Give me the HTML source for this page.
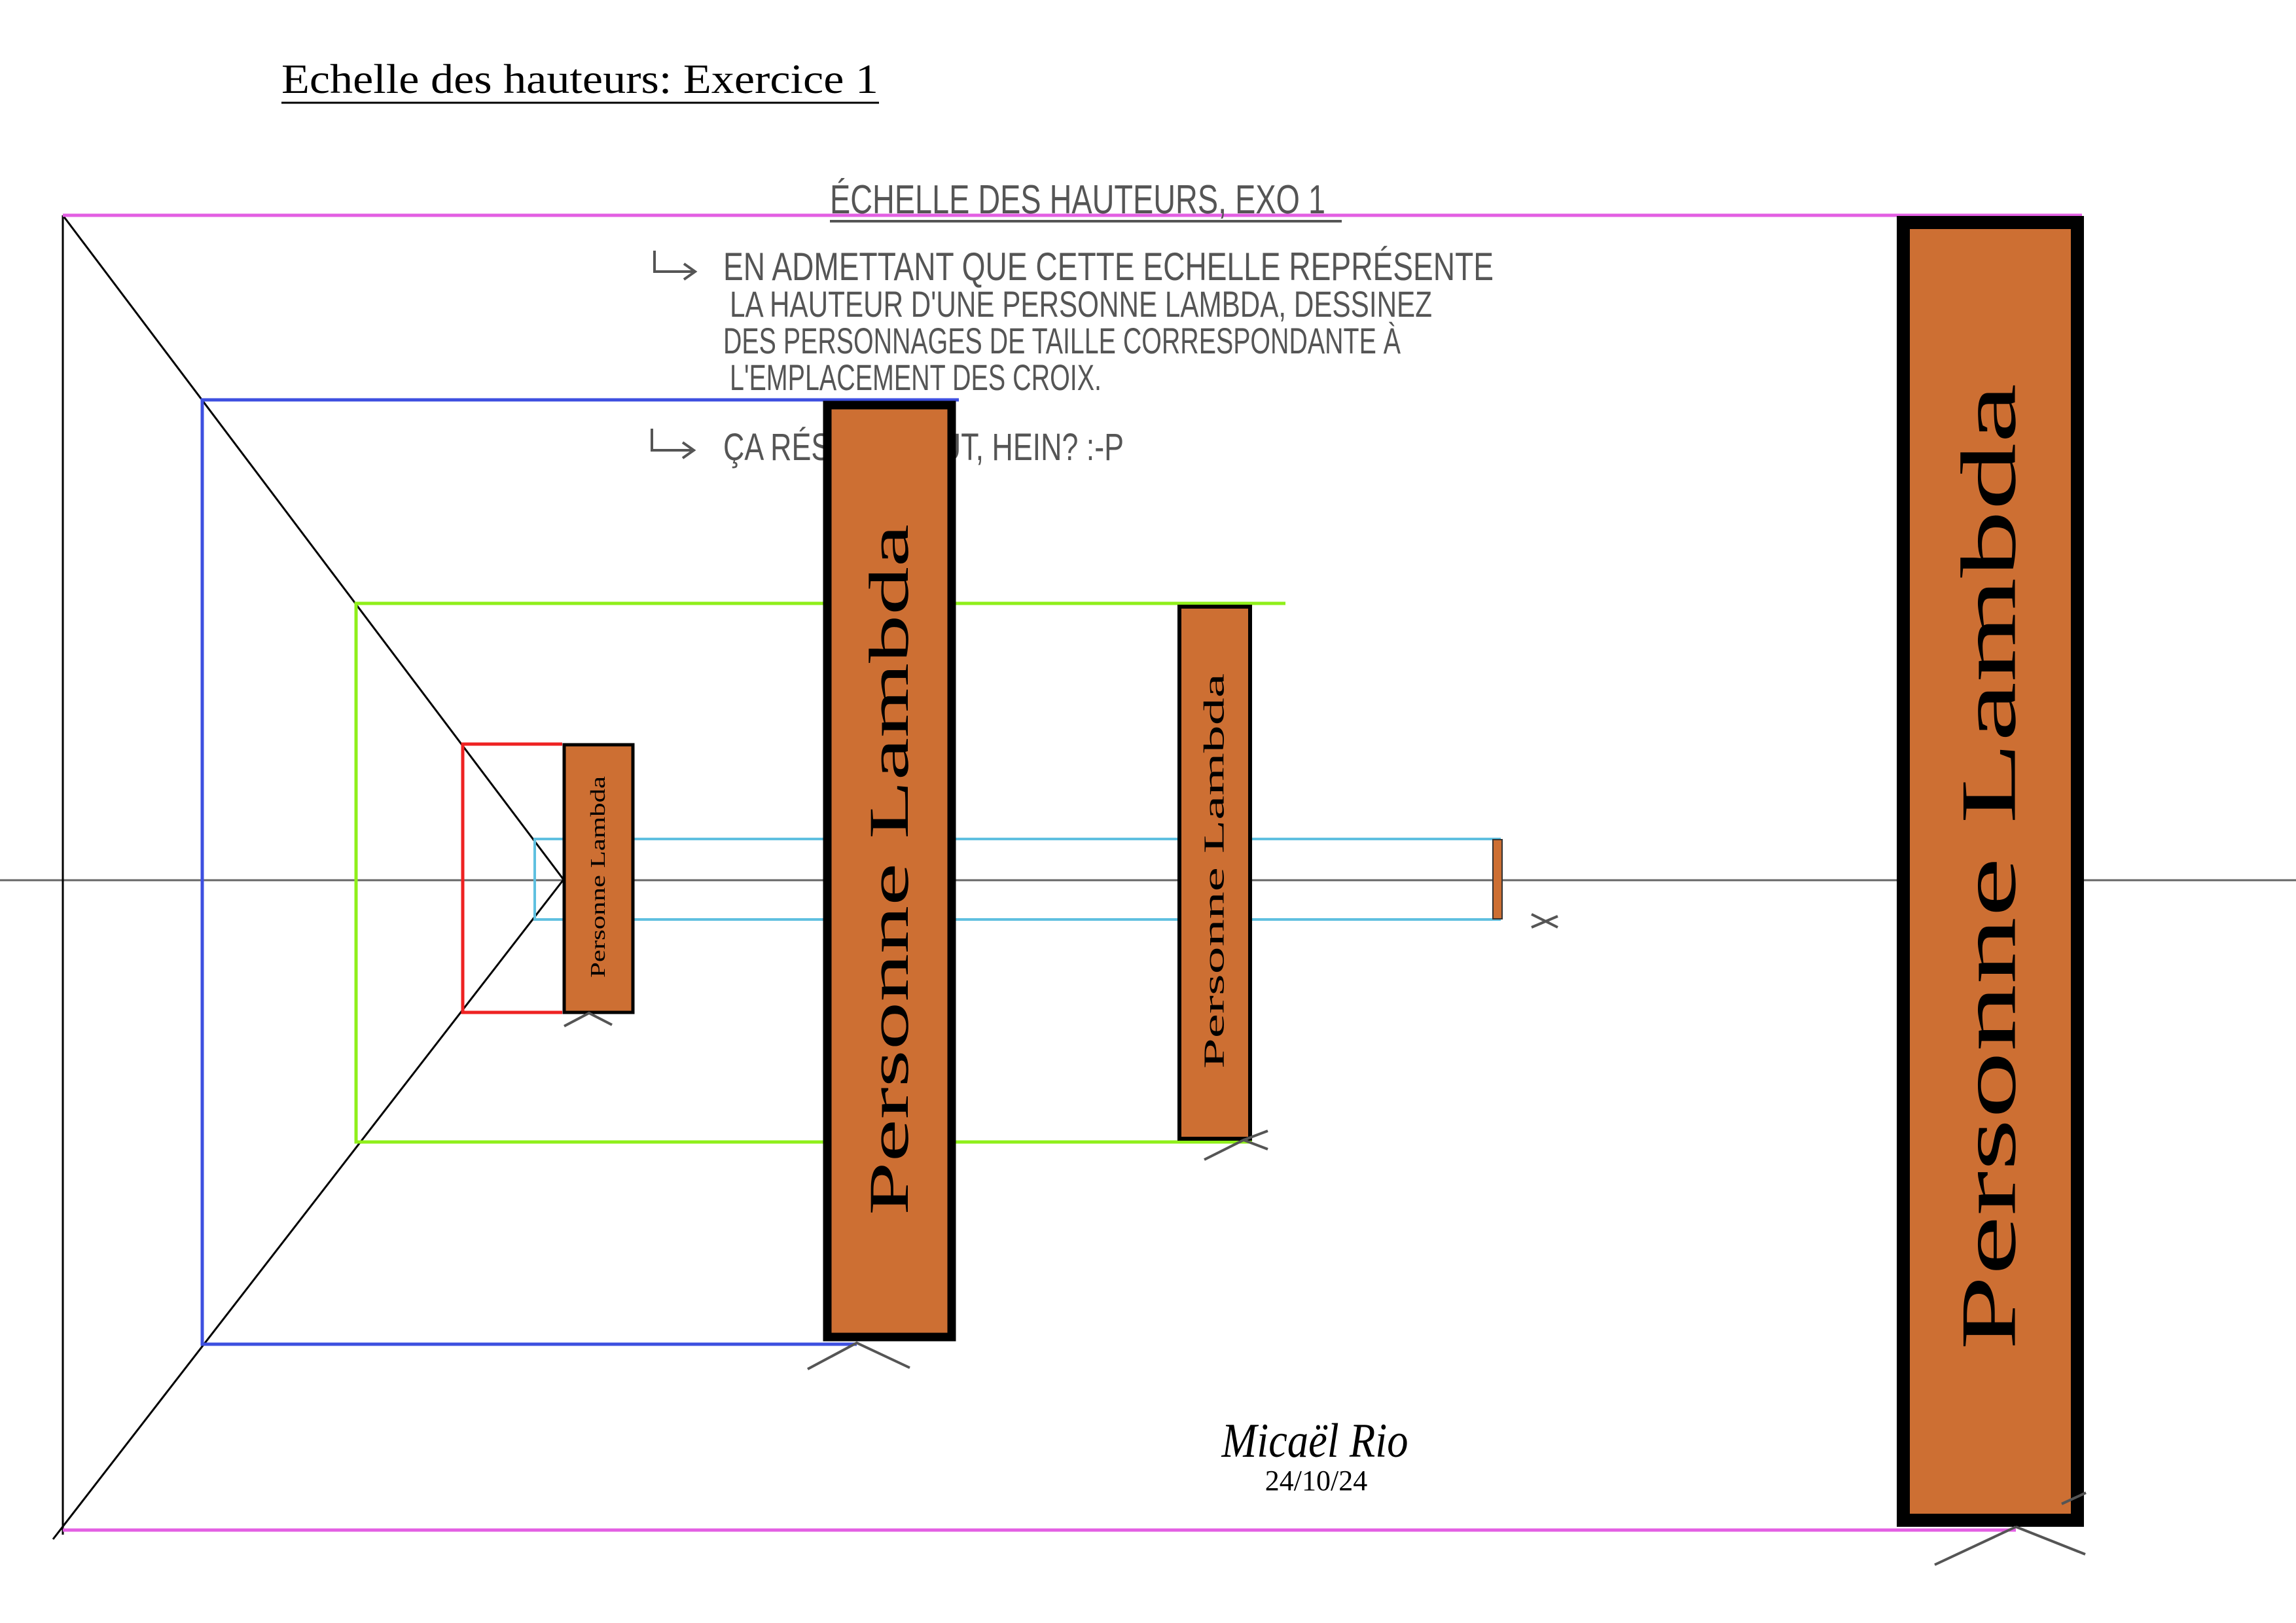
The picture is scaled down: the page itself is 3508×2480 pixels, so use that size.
<!DOCTYPE html>
<html><head><meta charset="utf-8"><style>html,body{margin:0;padding:0;background:#fff}svg{display:block}</style></head>
<body>
<svg width="3508" height="2480" viewBox="0 0 3508 2480" xmlns="http://www.w3.org/2000/svg">
<rect width="3508" height="2480" fill="#fff"/>
<text x="430" y="142" font-family="Liberation Serif, serif" font-size="64" fill="#000" textLength="912" lengthAdjust="spacingAndGlyphs">Echelle des hauteurs: Exercice 1</text>
<line x1="430" y1="157" x2="1343" y2="157" stroke="#000" stroke-width="3"/>
<line x1="0" y1="1345" x2="3508" y2="1345" stroke="#666" stroke-width="3"/>
<line x1="96" y1="329" x2="96" y2="2345" stroke="#000" stroke-width="3"/>
<polyline points="96,329 861,1344 81,2352" fill="none" stroke="#000" stroke-width="3"/>
<line x1="96" y1="329" x2="3181" y2="329" stroke="#e35fe3" stroke-width="5"/>
<line x1="96" y1="2338" x2="3080" y2="2338" stroke="#e35fe3" stroke-width="5"/>
<polyline points="1465,611 309,611 309,2054 1309,2054" fill="none" stroke="#3d4fe0" stroke-width="5"/>
<polyline points="1964,922 544,922 544,1745 1913,1745" fill="none" stroke="#8fef1a" stroke-width="5"/>
<polyline points="859,1137 707,1137 707,1547 859,1547" fill="none" stroke="#ee2222" stroke-width="5"/>
<polyline points="2293,1282 817,1282 817,1405 2293,1405" fill="none" stroke="#5fc0e0" stroke-width="4"/>
<g font-family="Liberation Sans Narrow, Liberation Sans, sans-serif" fill="#555">
<text x="1268" y="326" font-size="62" textLength="757" lengthAdjust="spacingAndGlyphs">ÉCHELLE DES HAUTEURS, EXO 1</text>
<line x1="1268" y1="338" x2="2050" y2="338" stroke="#555" stroke-width="4"/>
<text x="1105" y="428" font-size="60" textLength="1177" lengthAdjust="spacingAndGlyphs">EN ADMETTANT QUE CETTE ECHELLE REPRÉSENTE</text>
<text x="1115" y="484" font-size="56" textLength="1073" lengthAdjust="spacingAndGlyphs">LA HAUTEUR D'UNE PERSONNE LAMBDA, DESSINEZ</text>
<text x="1105" y="540" font-size="56" textLength="1035" lengthAdjust="spacingAndGlyphs">DES PERSONNAGES DE TAILLE CORRESPONDANTE À</text>
<text x="1115" y="596" font-size="56" textLength="568" lengthAdjust="spacingAndGlyphs">L'EMPLACEMENT DES CROIX.</text>
<text x="1105" y="703" font-size="58" textLength="612" lengthAdjust="spacingAndGlyphs">ÇA RÉSOUT TOUT, HEIN? :-P</text>
<path d="M1000,383 L1000,415 L1060,415 M1045,403 L1062,415 L1045,427" fill="none" stroke="#555" stroke-width="4"/>
<path d="M996,655 L996,688 L1058,688 M1043,676 L1060,688 L1043,700" fill="none" stroke="#555" stroke-width="4"/>
</g>
<rect x="862" y="1138" width="105" height="409" fill="#cd6f33" stroke="#000" stroke-width="5"/>
<text transform="translate(913,1494) rotate(-90)" font-family="Liberation Serif, serif" font-size="32" dominant-baseline="central" textLength="308" lengthAdjust="spacingAndGlyphs">Personne Lambda</text>
<rect x="1264" y="619" width="190" height="1424" fill="#cd6f33" stroke="#000" stroke-width="13"/>
<text transform="translate(1358,1857) rotate(-90)" font-family="Liberation Serif, serif" font-size="86" dominant-baseline="central" textLength="1056" lengthAdjust="spacingAndGlyphs">Personne Lambda</text>
<rect x="1802" y="927" width="108" height="813" fill="#cd6f33" stroke="#000" stroke-width="6"/>
<text transform="translate(1855,1633) rotate(-90)" font-family="Liberation Serif, serif" font-size="44" dominant-baseline="central" textLength="604" lengthAdjust="spacingAndGlyphs">Personne Lambda</text>
<rect x="2908" y="340" width="266" height="1983" fill="#cd6f33" stroke="#000" stroke-width="20"/>
<text transform="translate(3038,2063) rotate(-90)" font-family="Liberation Serif, serif" font-size="120" dominant-baseline="central" textLength="1477" lengthAdjust="spacingAndGlyphs">Personne Lambda</text>
<rect x="2281" y="1283" width="14" height="121" fill="#cd6f33" stroke="#333" stroke-width="2"/>
<g stroke="#555" stroke-width="4" fill="none">
<path d="M862,1568 L900,1548 L935,1566"/>
<path d="M1234,2092 L1309,2052 L1390,2090"/>
<path d="M1840,1772 L1900,1742 L1937,1728 M1900,1742 L1937,1756"/>
<path d="M2340,1397 L2380,1417 M2340,1417 L2380,1400"/>
<path d="M2956,2391 L3080,2333 M3150,2298 L3187,2281 M3080,2333 L3186,2375"/>
</g>
<text x="2009" y="2226" text-anchor="middle" font-family="Liberation Serif, serif" font-style="italic" font-size="74" fill="#000" textLength="285" lengthAdjust="spacingAndGlyphs">Micaël Rio</text>
<text x="2011" y="2277" text-anchor="middle" font-family="Liberation Serif, serif" font-size="44" fill="#000">24/10/24</text>
</svg>
</body></html>
